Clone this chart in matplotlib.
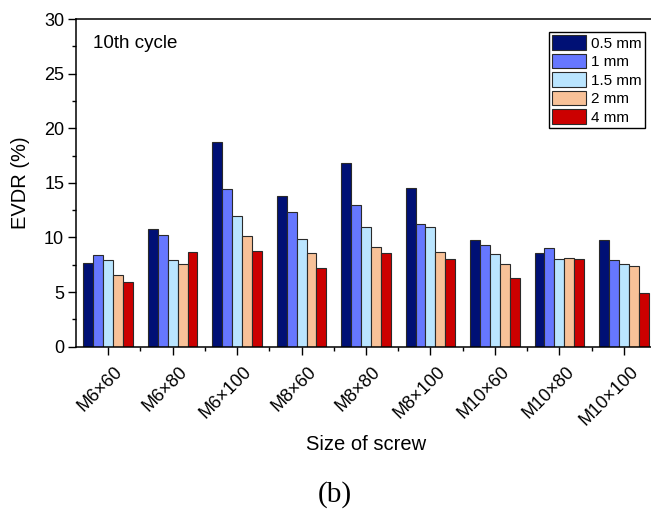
import matplotlib
matplotlib.use("Agg")
import matplotlib.pyplot as plt
import matplotlib.transforms as mtransforms
import numpy as np
from matplotlib.ticker import MultipleLocator

plt.rcParams["font.family"] = ["Liberation Sans", "DejaVu Sans"]

screws = ["M6×60", "M6×80", "M6×100", "M8×60", "M8×80", "M8×100",
          "M10×60", "M10×80", "M10×100"]
gaps = ["0.5 mm", "1 mm", "1.5 mm", "2 mm", "4 mm"]

evdr_05 = [7.7, 10.75, 18.7, 13.8, 16.8, 14.5, 9.75, 8.55, 9.8]
evdr_1 = [8.4, 10.2, 14.4, 12.35, 12.95, 11.25, 9.3, 9.0, 7.95]
evdr_15 = [7.95, 7.95, 11.95, 9.9, 10.95, 10.95, 8.45, 8.05, 7.55]
evdr_2 = [6.6, 7.55, 10.1, 8.6, 9.1, 8.65, 7.55, 8.1, 7.4]
evdr_4 = [5.9, 8.65, 8.8, 7.25, 8.55, 8.0, 6.3, 8.0, 4.9]

colors = ["#001075", "#6677FF", "#BAE5FF", "#F8C198", "#CC0000"]

fig = plt.figure(figsize=(6.51, 5.11), dpi=100)
# right spine sits just past the canvas edge, like the cropped original
ax = fig.add_axes([0.1167, 0.3215, 0.891, 0.6413])

x = np.arange(len(screws))
width = 0.154
series = [evdr_05, evdr_1, evdr_15, evdr_2, evdr_4]
for i, (vals, label, c) in enumerate(zip(series, gaps, colors)):
    ax.bar(x + (i - 2) * width, vals, width, color=c, edgecolor="#2a2a2a",
           linewidth=0.8, label=label)

ax.set_xlim(-0.5, 8.5)
ax.set_ylim(0, 30)
ax.yaxis.set_major_locator(MultipleLocator(5))
ax.yaxis.set_minor_locator(MultipleLocator(2.5))
ax.set_xticks(x)
ax.set_xticks(x + 0.5, minor=True)
ax.tick_params(axis="y", labelsize=13, pad=3)
ax.tick_params(which="major", direction="out", length=5.5, width=1)
ax.tick_params(which="minor", direction="out", length=3, width=1)
ax.set_xticklabels(screws, rotation=45, ha="right", va="center",
                   rotation_mode="anchor", fontsize=13)
# tick_params resets label transforms, so nudge the labels afterwards
shift = mtransforms.ScaledTranslation(12 / 100, -10 / 100, fig.dpi_scale_trans)
for lab in ax.get_xticklabels():
    lab.set_transform(lab.get_transform() + shift)
for s in ["left", "top", "bottom", "right"]:
    ax.spines[s].set_linewidth(1.1)

ax.set_ylabel("EVDR (%)", fontsize=14.5)
ax.yaxis.set_label_coords(-0.079, 0.5)
ax.set_xlabel("Size of screw", fontsize=14.5)
ax.xaxis.set_label_coords(0.5, -0.297)
ax.xaxis.label.set_va("center")
ax.text(0.029, 0.924, "10th cycle", transform=ax.transAxes, fontsize=13.5,
        va="center")

leg = ax.legend(loc="upper right", bbox_to_anchor=(645 / 651, 1 - 32 / 511),
                bbox_transform=fig.transFigure, fontsize=11,
                fancybox=False, edgecolor="black", framealpha=1,
                handlelength=2.2, handleheight=1.1, handletextpad=0.35,
                labelspacing=0.2, borderpad=0.2, borderaxespad=0)
leg.get_frame().set_linewidth(1.0)

fig.text(335 / 651, 1 - 495 / 511, "(b)", ha="center", va="center",
         fontsize=21, family=["Liberation Serif", "DejaVu Serif"])

fig.savefig("out.png", dpi=100)
